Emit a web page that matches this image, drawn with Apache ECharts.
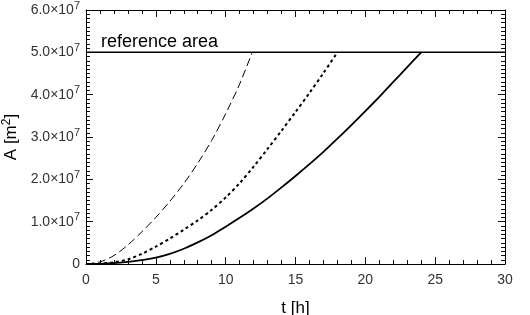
<!DOCTYPE html>
<html>
<head>
<meta charset="utf-8">
<script src="https://cdn.jsdelivr.net/npm/echarts@6/dist/echarts.min.js"></script>
<style>
html,body{margin:0;padding:0;background:#fff;}
#c{width:530px;height:315px;}
</style>
</head>
<body>
<div id="c"></div>
<script>
// Data (A in m^2, t in hours)
var tSolid  = [0,1,2,3,4,5,6,7,8,9,10,11,12,13,14,15,16,17,18,19,20,21,22,23,24];
var aSolid  = [0,0.005e7,0.02e7,0.05e7,0.09e7,0.15e7,0.24e7,0.36e7,0.51e7,0.68e7,0.88e7,1.09e7,1.31e7,1.55e7,1.81e7,2.08e7,2.36e7,2.65e7,2.96e7,3.28e7,3.61e7,3.95e7,4.3e7,4.65e7,5.0e7];
var tDotted = [0,1,2,3,4,5,6,7,8,9,10,11,12,13,14,15,16,17,18];
var aDotted = [0,0.01e7,0.04e7,0.11e7,0.24e7,0.41e7,0.6e7,0.81e7,1.03e7,1.28e7,1.57e7,1.91e7,2.3e7,2.72e7,3.15e7,3.59e7,4.04e7,4.51e7,5.0e7];
var tDashed = [0,1,2,3,4,5,6,7,8,9,10,11,11.9];
var aDashed = [0,0.05e7,0.2e7,0.45e7,0.76e7,1.1e7,1.48e7,1.9e7,2.38e7,2.92e7,3.55e7,4.25e7,5.0e7];
var tReference = [0,30];
var aReference = [5.0e7,5.0e7];
var referenceLabel = 'reference area';
var yTickLabels = ['0','1.0','2.0','3.0','4.0','5.0','6.0'];
var xTickLabels = ['0','5','10','15','20','25','30'];

function pairs(ts, as){ return ts.map(function(t,i){ return [t, as[i]]; }); }

var FONT = 'Liberation Sans, Arial, sans-serif';
var W = 530, H = 315, GL = 86, GR = 25, GT = 10, GB = 51;
var PW = W - GL - GR, PH = H - GT - GB;
var MAJ = 7, MIN = 4;
var chart = echarts.init(document.getElementById('c'));
function line(){ return {show:true, onZero:false, lineStyle:{color:'#000', width:1}}; }
var lblFont = {fontFamily:FONT, fontSize:14, color:'#333'};
var tickLine = {show:true, lineStyle:{color:'#111', width:1}};

// main plot grid + thin strip grids along each frame edge; the axis split lines
// inside the strips form the inward major / minor tick marks
var grids = [{left:GL, top:GT, width:PW, height:PH, outerBoundsMode:'none'}];
var xAxes = [
  {gridIndex:0, type:'value', min:0, max:30, interval:5, position:'bottom',
   axisLine:line(), axisTick:{show:false}, splitLine:{show:false},
   axisLabel:Object.assign({margin:9, formatter:function(v){ return xTickLabels[Math.round(v/5)]; }}, lblFont),
   name:'t [h]', nameLocation:'middle', nameGap:36,
   nameTextStyle:{fontFamily:FONT, fontSize:17, color:'#000'}},
  {gridIndex:0, type:'value', min:0, max:30, interval:5, position:'top',
   axisLine:line(), axisTick:{show:false}, axisLabel:{show:false}, splitLine:{show:false}}
];
var yAxes = [
  {gridIndex:0, type:'value', min:0, max:6e7, interval:1e7, position:'left',
   axisLine:line(), axisTick:{show:false}, splitLine:{show:false},
   axisLabel:{margin:6, formatter:function(v){
      var i = Math.round(v/1e7);
      if(i===0) return '{a|0}';
      return '{a|'+yTickLabels[i]+'×10}{s|7}';
    },
    rich:{
      a:Object.assign({}, lblFont),
      s:{fontFamily:FONT, fontSize:11, color:'#333', padding:[0,0,9,0]}
    }},
   name:'{a|A [m}{s|2}{a|]}', nameLocation:'middle', nameGap:64,
   nameTextStyle:{rich:{
      a:{fontFamily:FONT, fontSize:17, color:'#000'},
      s:{fontFamily:FONT, fontSize:12, color:'#000', padding:[0,0,9,0]}
   }}},
  {gridIndex:0, type:'value', min:0, max:6e7, interval:1e7, position:'right',
   axisLine:line(), axisTick:{show:false}, axisLabel:{show:false}, splitLine:{show:false}}
];

function hiddenAxis(g){ return {gridIndex:g, type:'value', min:0, max:1, show:false}; }
function stripX(rect, minor){
  var g = grids.length;
  grids.push(Object.assign({outerBoundsMode:'none'}, rect));
  xAxes.push({gridIndex:g, type:'value', min:0, max:30, interval:5,
    axisLine:{show:false}, axisTick:{show:false}, axisLabel:{show:false},
    minorTick:{show:false, splitNumber:5},
    splitLine: minor ? {show:false} : tickLine,
    minorSplitLine: minor ? tickLine : {show:false}});
  yAxes.push(hiddenAxis(g));
}
function stripY(rect, minor){
  var g = grids.length;
  grids.push(Object.assign({outerBoundsMode:'none'}, rect));
  yAxes.push({gridIndex:g, type:'value', min:0, max:6e7, interval:1e7,
    axisLine:{show:false}, axisTick:{show:false}, axisLabel:{show:false},
    minorTick:{show:false, splitNumber:10},
    splitLine: minor ? {show:false} : tickLine,
    minorSplitLine: minor ? tickLine : {show:false}});
  xAxes.push(hiddenAxis(g));
}
// bottom and top edges
stripX({left:GL, top:GT+PH-MAJ, width:PW, height:MAJ}, false);
stripX({left:GL, top:GT+PH-MIN, width:PW, height:MIN}, true);
stripX({left:GL, top:GT, width:PW, height:MAJ}, false);
stripX({left:GL, top:GT, width:PW, height:MIN}, true);
// left and right edges
stripY({left:GL, top:GT, width:MAJ, height:PH}, false);
stripY({left:GL, top:GT, width:MIN, height:PH}, true);
stripY({left:GL+PW-MAJ, top:GT, width:MAJ, height:PH}, false);
stripY({left:GL+PW-MIN, top:GT, width:MIN, height:PH}, true);

chart.setOption({
  animation:false,
  title:{text:referenceLabel, left:101, top:33, padding:0,
    textStyle:{fontFamily:FONT, fontSize:18, fontWeight:'normal', color:'#000'}},
  grid:grids,
  xAxis:xAxes,
  yAxis:yAxes,
  series:[
    {type:'line', xAxisIndex:0, yAxisIndex:0, data:pairs(tReference, aReference), showSymbol:false,
     lineStyle:{color:'#000', width:1.5}},
    {type:'line', xAxisIndex:0, yAxisIndex:0, data:pairs(tSolid, aSolid), showSymbol:false, smooth:0.3,
     lineStyle:{color:'#000', width:1.8}},
    {type:'line', xAxisIndex:0, yAxisIndex:0, data:pairs(tDotted, aDotted), showSymbol:false, smooth:0.3,
     lineStyle:{color:'#000', width:2, type:[3,3]}},
    {type:'line', xAxisIndex:0, yAxisIndex:0, data:pairs(tDashed, aDashed), showSymbol:false, smooth:0.3,
     lineStyle:{color:'#000', width:1, type:[8,4]}}
  ]
});
</script>
</body>
</html>
